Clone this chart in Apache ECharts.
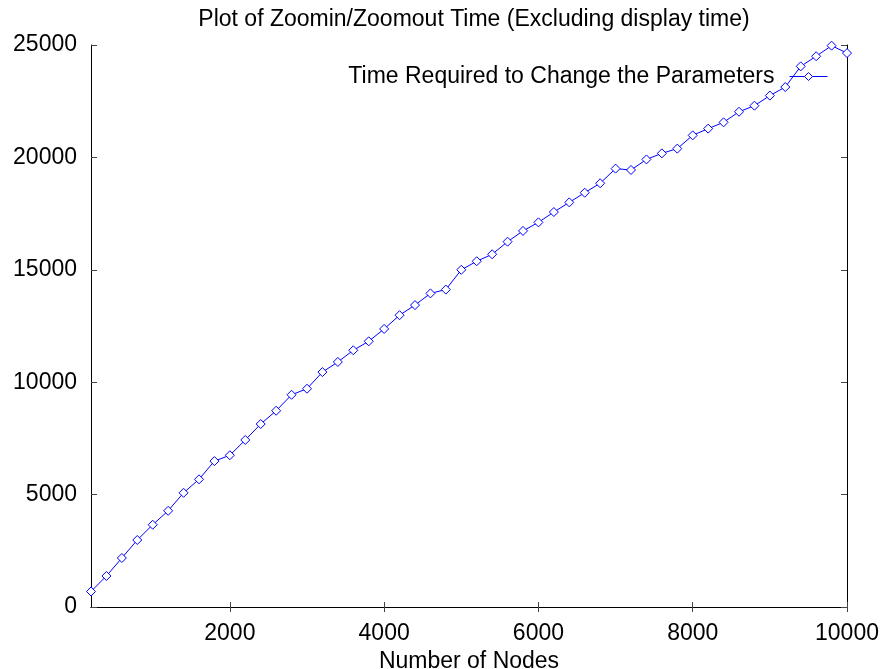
<!DOCTYPE html>
<html><head><meta charset="utf-8">
<script src="https://cdn.jsdelivr.net/npm/echarts@6/dist/echarts.min.js"></script>
<style>html,body{margin:0;padding:0;background:#fff}#c{width:880px;height:669px}</style>
</head><body><div id="c"></div>
<script>
const nodes = [200,400,600,800,1000,1200,1400,1600,1800,2000,2200,2400,2600,2800,3000,3200,3400,3600,3800,4000,4200,4400,4600,4800,5000,5200,5400,5600,5800,6000,6200,6400,6600,6800,7000,7200,7400,7600,7800,8000,8200,8400,8600,8800,9000,9200,9400,9600,9800,10000];
const times = [690,1380,2180,2980,3660,4280,5080,5680,6490,6750,7430,8140,8730,9440,9710,10450,10900,11420,11820,12370,12980,13430,13950,14120,15000,15380,15690,16250,16730,17110,17570,18000,18430,18850,19500,19440,19910,20180,20390,20980,21280,21560,22030,22300,22750,23130,24050,24500,24970,24640];
const xTicks = [2000,4000,6000,8000,10000];
const yTicks = [0,5000,10000,15000,20000,25000];
const seriesName = 'Time Required to Change the Parameters';
const titleText = 'Plot of Zoomin/Zoomout Time (Excluding display time)';
const xName = 'Number of Nodes';

const font = 'Liberation Sans, Arial, sans-serif';
const FS = 23;
const fmt = v => String(v);
const chart = echarts.init(document.getElementById('c'), null, {renderer:'canvas'});
chart.setOption({
  animation:false,
  backgroundColor:'#fff',
  title:{text:titleText,left:469,textAlign:'center',top:3,textStyle:{fontFamily:font,fontSize:FS,fontWeight:'normal',color:'#000'}},
  legend:{data:[{name:seriesName}],right:47,top:60,align:'right',itemWidth:38,itemHeight:10,
    lineStyle:{width:1},
    itemStyle:{color:'#fff',borderColor:'#0000ff',borderWidth:1},
    textStyle:{fontFamily:font,fontSize:FS,color:'#000',padding:[0,10,0,0]}},
  grid:{left:91,right:33,top:45,bottom:62,show:false,outerBoundsMode:'none',containLabel:false},
  xAxis:[{type:'value',min:200,max:10000,position:'bottom',
    name:xName,nameLocation:'middle',nameGap:36,nameTextStyle:{fontFamily:font,fontSize:FS,color:'#000'},
    axisLine:{show:true,lineStyle:{color:'#000',width:1}},
    axisTick:{show:true,inside:true,length:5,customValues:xTicks,lineStyle:{color:'#444'}},
    axisLabel:{customValues:xTicks,formatter:fmt,fontFamily:font,fontSize:FS,color:'#000',margin:15},
    splitLine:{show:false}},
   {type:'value',min:200,max:10000,position:'top',
    axisLine:{show:true,lineStyle:{color:'#000',width:1}},
    axisTick:{show:true,inside:true,length:5,customValues:xTicks,lineStyle:{color:'#444'}},
    axisLabel:{show:false},splitLine:{show:false}}],
  yAxis:[{type:'value',min:0,max:25000,interval:5000,position:'left',
    axisLine:{show:true,lineStyle:{color:'#000',width:1}},
    axisTick:{show:true,inside:true,length:6,lineStyle:{color:'#444'}},
    axisLabel:{formatter:fmt,fontFamily:font,fontSize:FS,color:'#000',margin:14},
    splitLine:{show:false}},
   {type:'value',min:0,max:25000,interval:5000,position:'right',
    axisLine:{show:true,lineStyle:{color:'#000',width:1}},
    axisTick:{show:true,inside:true,length:6,lineStyle:{color:'#444'}},
    axisLabel:{show:false},splitLine:{show:false}}],
  series:[{name:seriesName,type:'line',xAxisIndex:0,yAxisIndex:0,
    data:nodes.map((n,i)=>[n,times[i]]),
    symbol:'diamond',symbolSize:9,showSymbol:true,
    lineStyle:{color:'#0000ff',width:1},
    itemStyle:{color:'#fff',borderColor:'#0000ff',borderWidth:1}}]
});
</script></body></html>
